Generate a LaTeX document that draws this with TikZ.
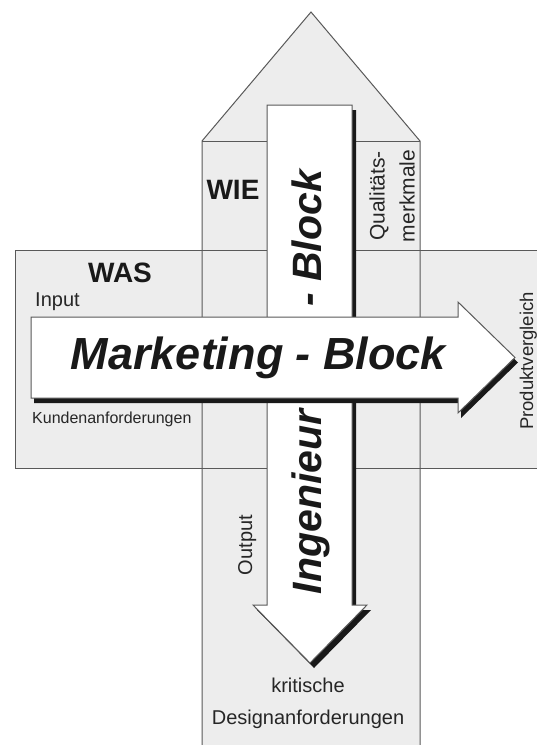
\documentclass[tikz,border=0pt]{standalone}
\usepackage{fontspec}
\setmainfont{Liberation Sans}
\begin{document}
\begin{tikzpicture}[x=1pt,y=-1pt,line join=miter,
  area/.style={fill=black!7},
  edge/.style={draw=black!65,line width=1pt},
  shadowfill/.style={fill=black!90},
  arrowbody/.style={fill=white,draw=black!65,line width=1pt},
  lab/.style={inner sep=0pt,text=black!85,font=\fontsize{20}{24}\selectfont},
  biglab/.style={inner sep=0pt,text=black!90,font=\fontsize{45}{50}\selectfont\bfseries\itshape},
  ingfont/.style={inner sep=0pt,text=black!90,font=\fontsize{41}{46}\selectfont\bfseries\itshape},
  headlab/.style={inner sep=0pt,text=black!90,font=\fontsize{28}{32}\selectfont\bfseries}]
\useasboundingbox (0,0) rectangle (537,745);
\clip (0,0) rectangle (537,745);
% background areas
\fill[area] (202,141) -- (311,12) -- (420,141) -- (420,760) -- (202,760) -- cycle;
\fill[area] (15,250) rectangle (560,468);
\draw[edge] (202,760) -- (202,141) -- (311,12) -- (420,141) -- (420,760);
\draw[edge] (202,141) -- (420,141);
\draw[edge] (560,250) -- (15,250) -- (15,468) -- (560,468);
% Ingenieur arrow (down)
\fill[shadowfill,shift={(4,5)}] (267,105) -- (352,105) -- (352,605) -- (367,605) -- (310,663) -- (253,605) -- (267,605) -- cycle;
\filldraw[arrowbody] (267,105) -- (352,105) -- (352,605) -- (367,605) -- (310,663) -- (253,605) -- (267,605) -- cycle;
% Marketing arrow (right)
\fill[shadowfill,shift={(3,5)}] (31,317) -- (458,317) -- (458,302) -- (515,357.5) -- (458,413) -- (458,398) -- (31,398) -- cycle;
\filldraw[arrowbody] (31,317) -- (458,317) -- (458,302) -- (515,357.5) -- (458,413) -- (458,398) -- (31,398) -- cycle;
% texts
\node[biglab,anchor=base] (mkt) at (258.5,369) {Marketing - Block};
\node[ingfont,rotate=90,anchor=base] (ing) at (321,502) {Ingenieur};
\node[ingfont,rotate=90,anchor=base] (blk) at (321,238.5) {- Block};
\node[headlab,anchor=base] (was) at (120,282) {WAS};
\node[headlab,anchor=base] (wie) at (233,199) {WIE};
\node[lab,anchor=base west] (input) at (35,306) {Input};
\node[lab,anchor=base west,font=\fontsize{16}{19}\selectfont] (kunden) at (32,423) {Kundenanforderungen};
\node[lab,rotate=90,anchor=base] (output) at (252,545) {Output};
\node[lab,rotate=90,align=center,font=\fontsize{21}{30}\selectfont] (qual) at (392,196) {Qualitäts-\\merkmale};
\node[lab,rotate=90,anchor=base,font=\fontsize{18.5}{22}\selectfont] (prod) at (533,361) {Produktvergleich};
\node[lab,anchor=base] (krit) at (308,692) {kritische};
\node[lab,anchor=base] (design) at (308,724) {Designanforderungen};
\end{tikzpicture}
\end{document}
